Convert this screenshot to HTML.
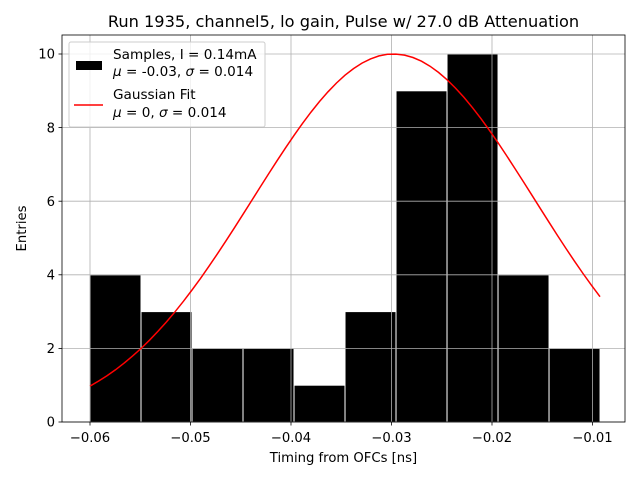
<!DOCTYPE html>
<html><head><meta charset="utf-8"><style>
body{margin:0;background:#fff}
svg{font-family:"DejaVu Sans","Liberation Sans",sans-serif}
</style></head><body>
<svg id="chart" width="640" height="480" xmlns="http://www.w3.org/2000/svg">
<rect width="640" height="480" fill="#fff"/>
<text x="343.5" y="27" font-size="16.2" text-anchor="middle">Run 1935, channel5, lo gain, Pulse w/ 27.0 dB Attenuation</text>
<g id="bars"></g><g id="grid"></g><g id="fit"></g><g id="ticks"></g>
<rect x="62" y="35" width="563" height="387" fill="none" stroke="#000" stroke-width="0.8"/>
<text x="343.5" y="462" font-size="13.2" text-anchor="middle">Timing from OFCs [ns]</text>
<text x="26" y="228.5" font-size="13.2" text-anchor="middle" transform="rotate(-90 26 228.5)">Entries</text>
<g>
<rect x="69" y="42" width="196" height="85" rx="2" fill="#fff" fill-opacity="0.8" stroke="#ccc"/>
<rect x="76" y="61" width="26" height="9" fill="#000"/>
<text x="113" y="59" font-size="13.6">Samples, I = 0.14mA</text>
<text x="113" y="76" font-size="13.6"><tspan font-style="italic">μ</tspan> = -0.03, <tspan font-style="italic">σ</tspan> = 0.014</text>
<line x1="74" y1="105" x2="103" y2="105" stroke="red" stroke-width="1.5"/>
<text x="113" y="99" font-size="13.6">Gaussian Fit</text>
<text x="113" y="117" font-size="13.6"><tspan font-style="italic">μ</tspan> = 0, <tspan font-style="italic">σ</tspan> = 0.014</text>
</g>
</svg>
<script>
const counts=[4,3,2,2,1,3,9,10,4,2];
const binStart=-0.0600, binEnd=-0.00925;
const fitMu=-0.0298, fitSigma=0.014, fitAmp=10;
const xTicks=[-0.06,-0.05,-0.04,-0.03,-0.02,-0.01];
const xTickLabels=["−0.06","−0.05","−0.04","−0.03","−0.02","−0.01"];
const yTicks=[0,2,4,6,8,10];
const NS="http://www.w3.org/2000/svg";
const X=v=>90+(v+0.06)*10050;
const Y=v=>422-v*36.8;
function mk(t,a,p){const e=document.createElementNS(NS,t);for(const k in a)e.setAttribute(k,a[k]);document.getElementById(p).appendChild(e);return e;}
const w=(binEnd-binStart)/counts.length;
counts.forEach((c,i)=>{const x0=X(binStart+i*w),x1=X(binStart+(i+1)*w);
const r=mk('rect',{x:x0,y:Y(c),width:x1-x0,height:Y(0)-Y(c),fill:'#000',stroke:'#fff','stroke-width':1},'bars');

});
xTicks.forEach((v,i)=>{
const g=mk('line',{x1:X(v),x2:X(v),y1:35,y2:422,stroke:'#b0b0b0','stroke-width':0.8},'grid');


mk('line',{x1:X(v),x2:X(v),y1:422,y2:425.5,stroke:'#000','stroke-width':0.8},'ticks');
const t=mk('text',{x:X(v),y:442,'font-size':13.2,'text-anchor':'middle'},'ticks');t.textContent=xTickLabels[i];

});
yTicks.forEach(v=>{
const g=mk('line',{x1:62,x2:625,y1:Y(v),y2:Y(v),stroke:'#b0b0b0','stroke-width':0.8},'grid');


mk('line',{x1:58.5,x2:62,y1:Y(v),y2:Y(v),stroke:'#000','stroke-width':0.8},'ticks');
const t=mk('text',{x:55,y:Y(v)+4.7,'font-size':13.2,'text-anchor':'end'},'ticks');t.textContent=v;

});
let pts=[];for(let i=0;i<=60;i++){const v=binStart+(binEnd-binStart)*i/60;
const f=fitAmp*Math.exp(-((v-fitMu)**2)/(2*fitSigma*fitSigma));pts.push(X(v).toFixed(1)+','+Y(f).toFixed(1));}
const pl=mk('polyline',{points:pts.join(' '),fill:'none',stroke:'red','stroke-width':1.5},'fit');


</script>
</body></html>
